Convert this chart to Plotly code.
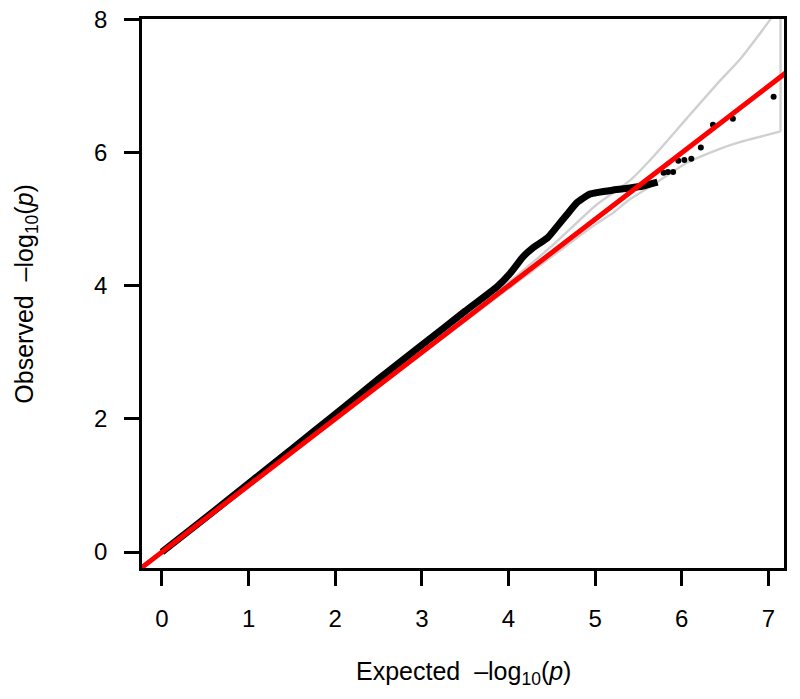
import plotly.graph_objects as go

curve_x = [0.0, 0.5, 1.0, 1.5, 2.0, 2.5, 3.0, 3.5, 3.87, 4.02, 4.17, 4.28, 4.45, 4.56,
           4.68, 4.79, 4.94, 5.21, 5.40, 5.55, 5.72]
curve_y = [0.0, 0.51, 1.03, 1.55, 2.07, 2.60, 3.11, 3.62, 3.99, 4.19, 4.44, 4.57, 4.72, 4.89,
           5.08, 5.25, 5.38, 5.44, 5.47, 5.50, 5.56]

# sparse tail points
tail_x = [5.79, 5.84, 5.90, 5.96, 6.03, 6.11, 6.22, 6.36, 6.59, 7.06]
tail_y = [5.70, 5.71, 5.71, 5.88, 5.89, 5.91, 6.08, 6.42, 6.51, 6.84]

# confidence band (upper then lower)
band_x = [0.0, 1.0, 2.0, 3.0, 4.0, 4.5, 5.0, 5.21, 5.40, 5.67, 6.06, 6.44, 6.67, 7.02, 7.14]
band_up = [0.01, 1.01, 2.01, 3.02, 4.05, 4.60, 5.20, 5.40, 5.58, 5.94, 6.52, 7.08, 7.40, 8.00, 8.25]
band_lo = [0.0, 0.99, 1.99, 2.98, 3.96, 4.44, 4.92, 5.10, 5.30, 5.52, 5.85, 6.06, 6.16, 6.28, 6.32]

ref_x = [-0.3, 7.3]
ref_y = [-0.3, 7.3]

x_ticks = [0, 1, 2, 3, 4, 5, 6, 7]
y_ticks = [0, 2, 4, 6, 8]

FONT = "Liberation Sans, Arial, sans-serif"

fig = go.Figure()

# band outline: upper, lower, and the closing edge on the right
fig.add_trace(go.Scatter(
    x=band_x, y=band_up, mode="lines",
    line=dict(color="#d0d0d0", width=2.4, shape="spline", smoothing=0.6), hoverinfo="skip"))
fig.add_trace(go.Scatter(
    x=band_x, y=band_lo, mode="lines",
    line=dict(color="#d0d0d0", width=2.4, shape="spline", smoothing=0.6), hoverinfo="skip"))
fig.add_trace(go.Scatter(
    x=[band_x[-1], band_x[-1]], y=[band_lo[-1], band_up[-1]], mode="lines",
    line=dict(color="#d0d0d0", width=2.4), hoverinfo="skip"))

fig.add_trace(go.Scatter(
    x=curve_x, y=curve_y, mode="lines",
    line=dict(color="black", width=7, shape="spline", smoothing=0.4)))

fig.add_trace(go.Scatter(
    x=tail_x, y=tail_y, mode="markers",
    marker=dict(color="black", size=6)))

fig.add_trace(go.Scatter(
    x=ref_x, y=ref_y, mode="lines",
    line=dict(color="#ff0000", width=5)))

axis_style = dict(
    showgrid=False, zeroline=False, showline=True, mirror=True,
    linecolor="black", linewidth=2.5,
    ticks="outside", ticklen=15, tickwidth=2.5, tickcolor="black",
    tickfont=dict(family=FONT, size=24, color="black"),
    ticklabeloverflow="allow", automargin=False,
)

fig.update_xaxes(range=[-0.23, 7.18], tickvals=x_ticks, ticklabelstandoff=12, **axis_style)
fig.update_yaxes(range=[-0.24, 8.01], tickvals=y_ticks, ticklabelstandoff=12, **axis_style)

fig.add_annotation(
    text="Expected  \u2013log<sub>10</sub>(<i>p</i>)", xref="paper", yref="paper",
    x=0.5, y=-0.191, xanchor="center", yanchor="middle", showarrow=False,
    font=dict(family=FONT, size=25, color="black"))
fig.add_annotation(
    text="Observed  \u2013log<sub>10</sub>(<i>p</i>)", xref="paper", yref="paper",
    x=-0.182, y=0.5, xanchor="center", yanchor="middle", showarrow=False,
    textangle=-90, font=dict(family=FONT, size=25, color="black"))

# page body adds an 8px offset, so the figure is shrunk to match
fig.update_layout(
    width=792, height=691,
    margin=dict(l=134, r=16, t=11, b=131),
    plot_bgcolor="white", paper_bgcolor="white",
    showlegend=False,
)

fig.write_html("out.html")
